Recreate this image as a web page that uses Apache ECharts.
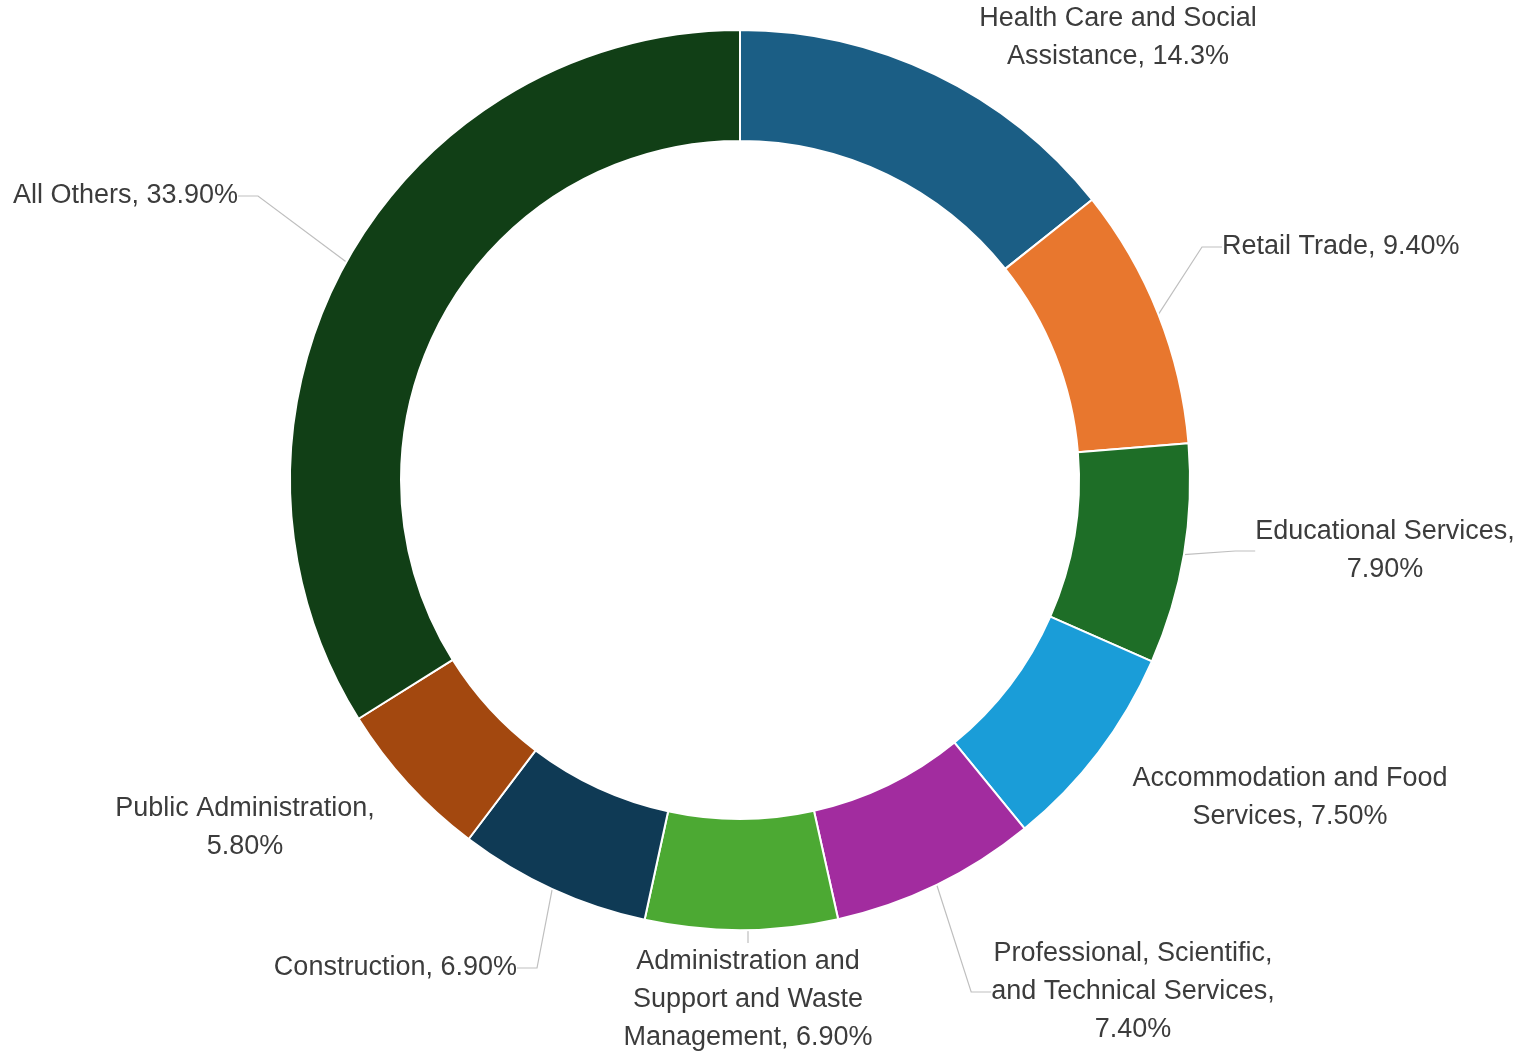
<!DOCTYPE html>
<html>
<head>
<meta charset="utf-8">
<script src="https://cdn.jsdelivr.net/npm/echarts@6/dist/echarts.min.js"></script>
<style>
html,body{margin:0;padding:0;background:#fff;}
#chart{width:1519px;height:1053px;}
</style>
</head>
<body>
<div id="chart"></div>
<script>
// Data
var categories = [
  'Health Care and Social Assistance',
  'Retail Trade',
  'Educational Services',
  'Accommodation and Food Services',
  'Professional, Scientific, and Technical Services',
  'Administration and Support and Waste Management',
  'Construction',
  'Public Administration',
  'All Others'
];
var values = [14.3, 9.4, 7.9, 7.5, 7.4, 6.9, 6.9, 5.8, 33.9];
var valueLabels = ['14.3%', '9.40%', '7.90%', '7.50%', '7.40%', '6.90%', '6.90%', '5.80%', '33.90%'];
var labelTexts = [
  'Health Care and Social\nAssistance, 14.3%',
  'Retail Trade, 9.40%',
  'Educational Services,\n7.90%',
  'Accommodation and Food\nServices, 7.50%',
  'Professional, Scientific,\nand Technical Services,\n7.40%',
  'Administration and\nSupport and Waste\nManagement, 6.90%',
  'Construction, 6.90%',
  'Public Administration,\n5.80%',
  'All Others, 33.90%'
];
var colors = ['#1b5e85', '#e8772e', '#1e6e27', '#1a9dd8', '#a22c9f', '#4ca933', '#0f3a55', '#a3480f', '#113f16'];

// Layout (label placement, styling only)
var labelPlace = [
  {x: 1118, y: 38, align: 'center', line: false},
  {x: 1222, y: 247, align: 'left', line: true},
  {x: 1385, y: 551, align: 'center', line: true},
  {x: 1290, y: 798, align: 'center', line: false},
  {x: 1133, y: 992, align: 'center', line: true},
  {x: 748, y: 1000, align: 'center', line: true},
  {x: 517, y: 968, align: 'right', line: true},
  {x: 245, y: 828, align: 'center', line: false},
  {x: 238, y: 196, align: 'right', line: true}
];

var data = categories.map(function (c, i) {
  return {
    name: c,
    value: values[i],
    itemStyle: {color: colors[i]},
    labelLine: {show: labelPlace[i].line}
  };
});

var chart = echarts.init(document.getElementById('chart'), null, {renderer: 'canvas'});
chart.setOption({
  animation: false,
  backgroundColor: '#ffffff',
  series: [{
    type: 'pie',
    center: [740, 480],
    radius: [339, 450],
    startAngle: 90,
    clockwise: true,
    avoidLabelOverlap: false,
    itemStyle: {borderColor: '#ffffff', borderWidth: 2},
    label: {
      show: true,
      position: 'outside',
      formatter: function (p) { return labelTexts[p.dataIndex]; },
      fontFamily: 'Liberation Sans',
      fontSize: 27,
      lineHeight: 38,
      color: '#3c3c3c'
    },
    labelLine: {
      show: true,
      length: 20,
      length2: 20,
      lineStyle: {color: '#bfbfbf', width: 1.2}
    },
    labelLayout: function (params) {
      var p = labelPlace[params.dataIndex];
      return {x: p.x, y: p.y, align: p.align, verticalAlign: 'middle'};
    },
    data: data
  }]
});
</script>
</body>
</html>
